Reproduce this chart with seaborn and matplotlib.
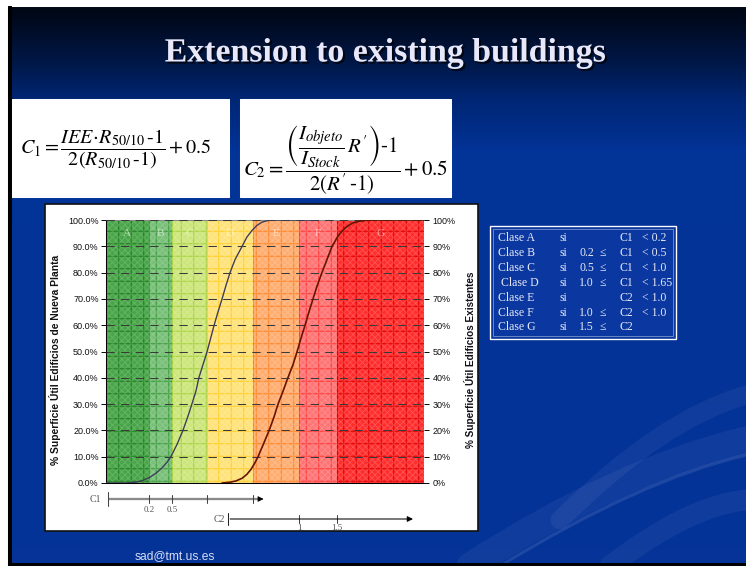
import numpy as np
import matplotlib
matplotlib.use("Agg")
import matplotlib.pyplot as plt
import matplotlib.transforms as mtransforms
import matplotlib.patheffects as pe
from matplotlib.patches import Rectangle, PathPatch
from matplotlib.path import Path
import seaborn as sns

W, H, DPI = 746, 566, 75

# ---- data -------------------------------------------------------------
class_labels = ["A", "B", "C", "D", "E", "F", "G"]
# class limits along the chart's horizontal position scale (0-100)
band_edges = [0.0, 13.5, 20.8, 31.8, 46.2, 60.7, 72.6, 100.0]
band_face = ["#48a548", "#78bf78", "#cde67c", "#ffe37a", "#ffae72", "#ff7474", "#ff2e2e"]
band_grid = ["#1f7f1f", "#3a9a3a", "#a6d03a", "#ffcc22", "#ff8224", "#ff3a3a", "#e00000"]

# cumulative share of floor area, new buildings (C1 scale)
new_pos = [0.0, 6.0, 7.5, 9.7, 11.6, 13.8, 15.7, 17.6, 19.2, 20.4, 22.3, 24.2,
           25.8, 27.0, 28.3, 29.2, 30.5, 31.8, 32.9, 34.0, 35.2, 36.5, 37.7,
           39.0, 40.6, 42.8, 44.3, 45.9, 47.5, 49.1, 50.9, 53.1, 66.4]
new_pct = [0.0, 0.0, 0.1, 0.4, 1.0, 2.2, 3.7, 5.7, 7.9, 10.0, 14.6, 20.0,
           25.5, 30.0, 35.0, 40.0, 45.0, 50.0, 55.0, 60.0, 65.0, 70.0, 75.0,
           80.0, 85.0, 90.0, 93.5, 96.0, 98.0, 99.2, 99.8, 100.0, 100.0]

# cumulative share of floor area, existing buildings (C2 scale)
exist_pos = [36.5, 39.0, 40.9, 42.8, 44.3, 45.6, 46.9, 47.8, 49.4, 51.3, 52.8,
             54.1, 55.7, 57.2, 58.8, 60.1, 61.3, 62.6, 63.8, 65.1, 66.4, 67.9,
             69.5, 71.1, 73.0, 75.2, 77.4, 79.9, 83.0, 100.0]
exist_pct = [0.0, 0.3, 0.8, 1.8, 3.3, 5.2, 7.8, 10.0, 14.5, 20.0, 25.0,
             30.0, 35.0, 40.0, 45.0, 50.0, 55.0, 60.0, 65.0, 70.0, 75.0, 80.0,
             85.0, 90.0, 94.0, 97.0, 98.8, 99.6, 100.0, 100.0]

pct_ticks = [0, 10, 20, 30, 40, 50, 60, 70, 80, 90, 100]
left_labels = ["0.0%", "10.0%", "20.0%", "30.0%", "40.0%", "50.0%", "60.0%",
               "70.0%", "80.0%", "90.0%", "100.0%"]
right_labels = ["0%", "10%", "20%", "30%", "40%", "50%", "60%", "70%", "80%",
                "90%", "100%"]

c1_tick_pos = [0.6, 13.5, 20.8, 31.8, 46.2]
c1_tick_lab = ["", "0.2", "0.5", "", ""]
c1_end = 49.4
c2_start, c2_end = 38.4, 97.2
c2_tick_pos = [60.7, 72.6]
c2_tick_lab = ["1", "1.5"]

legend_rows = [
    ("Clase A", "si", "", "", "C1", "< 0.2"),
    ("Clase B", "si", "0.2", "≤", "C1", "< 0.5"),
    ("Clase C", "si", "0.5", "≤", "C1", "< 1.0"),
    (" Clase D", "si", "1.0", "≤", "C1", "< 1.65"),
    ("Clase E", "si", "", "", "C2", "< 1.0"),
    ("Clase F", "si", "1.0", "≤", "C2", "< 1.0"),
    ("Clase G", "si", "1.5", "≤", "C2", ""),
]

# ---- style ------------------------------------------------------------
sns.set_theme(style="white")
plt.rcParams["font.family"] = ["Liberation Sans", "DejaVu Sans"]
plt.rcParams["mathtext.fontset"] = "stix"
plt.rcParams["hatch.linewidth"] = 0.9
SERIF = ["Liberation Serif", "DejaVu Serif"]

fig = plt.figure(figsize=(W / DPI, H / DPI), dpi=DPI)


def px_rect(x0, y0, x1, y1):
    return [x0 / W, 1 - y1 / H, (x1 - x0) / W, (y1 - y0) / H]


# ---- slide background ---------------------------------------------------
bg = fig.add_axes([0, 0, 1, 1], zorder=0)
bg.set_xlim(0, W)
bg.set_ylim(H, 0)
bg.axis("off")
ys = np.array([0, 20, 60, 100, 150, H])
stops = np.array([[0.00, 0.02, 0.06], [0.00, 0.04, 0.12], [0.00, 0.09, 0.27],
                  [0.00, 0.15, 0.46], [0.01, 0.20, 0.59], [0.02, 0.20, 0.60]])
yy = np.arange(H)
grad = np.stack([np.interp(yy, ys, stops[:, k]) for k in range(3)], axis=1)
bg.imshow(grad[:, None, :], extent=(0, W, H, 0), aspect="auto", zorder=0)

# soft light swooshes on the right
for (p0, p1, p2, lw, al) in [((470, 566), (620, 470), (746, 440), 26, 0.05),
                             ((500, 566), (640, 480), (746, 455), 3, 0.10),
                             ((560, 520), (660, 420), (746, 395), 18, 0.05),
                             ((610, 566), (690, 505), (746, 500), 20, 0.05)]:
    path = Path([p0, p1, p2], [Path.MOVETO, Path.CURVE3, Path.CURVE3])
    bg.add_patch(PathPatch(path, facecolor="none", edgecolor=(1, 1, 1, al),
                           lw=lw, capstyle="round", zorder=1))

# slide frame edges
bg.add_patch(Rectangle((0, 0), W, 6, color="white", zorder=2))
bg.add_patch(Rectangle((0, 0), 8, H, color="white", zorder=2))
bg.add_patch(Rectangle((8, 6), 3, H, color="black", zorder=2))
bg.add_patch(Rectangle((8, H - 3), W, 3, color="black", zorder=2))

# formula cards and chart panel
bg.add_patch(Rectangle((12, 99), 217, 98, color="white", zorder=2))
bg.add_patch(Rectangle((240, 99), 211, 98, color="white", zorder=2))
bg.add_patch(Rectangle((45, 204), 433, 327, facecolor="white",
                       edgecolor="#111111", lw=1.6, zorder=2))

# class legend box
bg.add_patch(Rectangle((490, 226), 186, 113, facecolor="#0a38a0",
                       edgecolor="white", lw=1.3, zorder=2))
bg.add_patch(Rectangle((493, 229), 180, 107, facecolor="none",
                       edgecolor=(1, 1, 1, 0.45), lw=0.8, zorder=2))

# ---- main chart -----------------------------------------------------------
ax = fig.add_axes(px_rect(106, 220, 424, 483), zorder=2)
ax.set_xlim(0, 100)
ax.set_ylim(0, 100)

for i, lab in enumerate(class_labels):
    x0, x1 = band_edges[i], band_edges[i + 1]
    ax.axvspan(x0, x1, facecolor=band_face[i], edgecolor=band_grid[i],
               hatch="+", lw=1.0, zorder=0.5)
    ax.axvspan(x0, x1, facecolor="none", edgecolor=(1, 1, 1, 0.16),
               hatch="xxxx", lw=0, zorder=0.6)
    ax.text((x0 + x1) / 2, 95, lab, ha="center", va="center",
            color=(1, 1, 1, 0.55), fontsize=11, family=SERIF, zorder=4)

sns.lineplot(x=new_pos, y=new_pct, ax=ax, color="#3c3c58", lw=1.3, zorder=3)
sns.lineplot(x=exist_pos, y=exist_pct, ax=ax, color="#681400", lw=1.6, zorder=3)

ax.set_yticks(pct_ticks)
ax.set_yticklabels(left_labels)
ax.set_xticks([])
ax.yaxis.grid(True, linestyle=(0, (8, 6)), color="#3a3a3a", lw=1.0)
ax.xaxis.grid(False)
ax.set_axisbelow(False)
ax.tick_params(axis="y", direction="out", length=5, width=0.9, color="black",
               labelsize=8.7, pad=2, left=True, labelcolor="#111111")
for side in ["left", "bottom"]:
    ax.spines[side].set_color("black")
    ax.spines[side].set_linewidth(1.0)
ax.spines["top"].set_color("#888888")
ax.spines["top"].set_linewidth(1.0)
ax.spines["right"].set_visible(False)
ax.set_ylabel("% Superficie Útil Edificios de Nueva Planta", fontsize=9.8,
              fontweight="bold", color="#111111")
ax.yaxis.set_label_coords(-0.141, 0.47)

ax2 = ax.twinx()
ax2.set_ylim(0, 100)
ax2.set_yticks(pct_ticks)
ax2.set_yticklabels(right_labels)
ax2.grid(False)
ax2.tick_params(axis="y", direction="out", length=5, width=0.9, color="black",
                labelsize=8.7, pad=3, right=True, labelcolor="#111111")
for side in ax2.spines:
    ax2.spines[side].set_visible(False)
ax2.set_ylabel("% Superficie Útil Edificios Existentes", fontsize=9.6,
               fontweight="bold", color="#111111", rotation=90)
ax2.yaxis.set_label_coords(1.126, 0.47)

# ---- overlay (titles, formulas, C1/C2 scales, legend text) -----------------
ov = fig.add_axes([0, 0, 1, 1], zorder=5)
ov.set_xlim(0, W)
ov.set_ylim(H, 0)
ov.axis("off")

ov.text(385, 53, "Extension to existing buildings", ha="center", va="center",
        fontsize=32.5, fontweight="bold", family=SERIF, color="#e8e8fa",
        path_effects=[pe.withSimplePatchShadow(offset=(2, -2),
                                               shadow_rgbFace="black", alpha=0.7)])

ov.text(20, 149, r"$C_1 = \dfrac{IEE\!\cdot\! R_{50/10}\,\text{-}1}{2(R_{50/10}\,\text{-}1)} + 0.5$",
        ha="left", va="center", fontsize=19.3, color="black")
ov.text(243, 160,
        r"$C_2 = \dfrac{\left(\dfrac{I_{objeto}}{I_{Stock}}\,R'\right)\text{-}1}{2(R'\,\text{-}1)} + 0.5$",
        ha="left", va="center", fontsize=20, color="black")

# C1 / C2 scales under the chart, aligned with the class limits
tr = mtransforms.blended_transform_factory(ax.transData, ov.transData)
c1_y, c2_y = 499, 519
ov.plot([c1_tick_pos[0], c1_end - 1.0], [c1_y, c1_y], color="#8a8a8a", lw=2.2,
        transform=tr, solid_capstyle="butt")
ov.annotate("", xy=(c1_end + 0.8, c1_y), xytext=(c1_end - 1.5, c1_y),
            xycoords=tr, textcoords=tr,
            arrowprops=dict(arrowstyle="-|>", color="black", lw=0.8,
                            mutation_scale=11))
for i, (p, lab) in enumerate(zip(c1_tick_pos, c1_tick_lab)):
    half = 7 if i == 0 else 4
    ov.plot([p, p], [c1_y - half, c1_y + half], color="#444444", lw=1.0,
            transform=tr)
    if lab:
        ov.text(p, c1_y + 11, lab, ha="center", va="center", fontsize=8.5,
                family=SERIF, color="#555555", transform=tr)
ov.text(101, c1_y, "C1", ha="right", va="center", fontsize=9.5, family=SERIF,
        color="#555555")

ov.annotate("", xy=(c2_end, c2_y), xytext=(c2_start, c2_y),
            xycoords=tr, textcoords=tr,
            arrowprops=dict(arrowstyle="-|>", color="black", lw=1.0,
                            mutation_scale=11))
ov.plot([c2_start, c2_start], [c2_y - 6, c2_y + 6], color="#222222", lw=1.0,
        transform=tr)
for p, lab in zip(c2_tick_pos, c2_tick_lab):
    ov.plot([p, p], [c2_y - 4, c2_y + 4], color="#444444", lw=1.0, transform=tr)
    ov.text(p, c2_y + 9, lab, ha="center", va="center", fontsize=8.5,
            family=SERIF, color="#555555", transform=tr)
ov.text(225, c2_y, "C2", ha="right", va="center", fontsize=9.5, family=SERIF,
        color="#555555")

# class legend text
col_x = [498, 559, 579, 600, 620, 642]
for r, row in enumerate(legend_rows):
    y = 238 + r * 14.9
    for cx, txt in zip(col_x, row):
        if txt:
            ov.text(cx, y, txt, ha="left", va="center", fontsize=11.3,
                    family=SERIF, color="#e6e8f6")

ov.text(135, 556, "sad@tmt.us.es", ha="left", va="center", fontsize=11.5,
        color="#d8def2")

fig.savefig("out.png", dpi=DPI)
